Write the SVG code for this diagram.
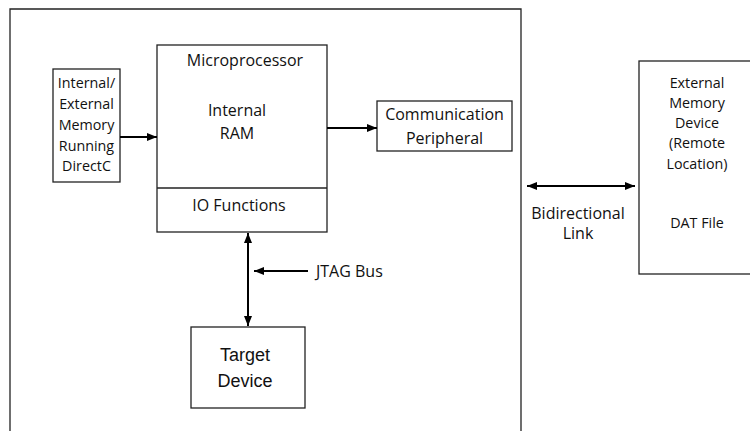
<svg xmlns="http://www.w3.org/2000/svg" width="750" height="431" viewBox="0 0 750 431">
<defs>
<marker id="ah" viewBox="0 0 10 8" refX="10" refY="4" markerWidth="10" markerHeight="8" markerUnits="userSpaceOnUse" orient="auto-start-reverse">
<path d="M0,0 L10,4 L0,8 Z" fill="#000"/>
</marker>
<style>
.box{fill:#fff;stroke:#222;stroke-width:1.3}
.t{font-family:"Open Sans","Noto Sans",sans-serif;font-size:14.3px;fill:#111;text-anchor:middle;dominant-baseline:central}
.L{font-size:16px}
.ta{font-family:"Liberation Sans",Arial,sans-serif;font-size:18px;fill:#111;text-anchor:middle;dominant-baseline:central}
.c{stroke:#000;stroke-width:2;fill:none}
</style>
</defs>
<rect width="750" height="431" fill="#fff"/>
<g id="system">
<path d="M10,440 L10,9 L521,9 L521,440" class="box" fill="none"/>
</g>
<g id="memory">
<rect x="53" y="69" width="67" height="113" class="box"/>
<text class="t" x="86.5" y="82">Internal/</text>
<text class="t" x="86.5" y="103">External</text>
<text class="t" x="86.5" y="124">Memory</text>
<text class="t" x="86.5" y="145">Running</text>
<text class="t" x="86.5" y="165">DirectC</text>
</g>
<g id="microprocessor">
<rect x="157" y="45" width="170" height="187" class="box"/>
<line x1="157" y1="188" x2="327" y2="188" stroke="#222" stroke-width="1.3"/>
<text class="t L" x="245" y="60">Microprocessor</text>
<text class="t L" x="237" y="110">Internal</text>
<text class="t L" x="237" y="133">RAM</text>
<text class="t L" x="239" y="205">IO Functions</text>
</g>
<g id="comm">
<rect x="377" y="101" width="135" height="50" class="box"/>
<text class="t L" x="444.5" y="114">Communication</text>
<text class="t L" x="444.5" y="138">Peripheral</text>
</g>
<g id="external">
<rect x="639" y="61" width="120" height="213" class="box"/>
<text class="t" x="697" y="82">External</text>
<text class="t" x="697" y="102">Memory</text>
<text class="t" x="697" y="122">Device</text>
<text class="t" x="697" y="142">(Remote</text>
<text class="t" x="697" y="163">Location)</text>
<text class="t" x="697" y="222">DAT File</text>
</g>
<g id="target">
<rect x="191" y="327" width="114" height="81" class="box"/>
<text class="ta" x="245" y="355">Target</text>
<text class="ta" x="245" y="381">Device</text>
</g>
<g id="connectors">
<line class="c" x1="120" y1="137" x2="157" y2="137" marker-end="url(#ah)"/>
<line class="c" x1="327" y1="128" x2="377" y2="128" marker-end="url(#ah)"/>
<line class="c" x1="527" y1="186" x2="635" y2="186" marker-start="url(#ah)" marker-end="url(#ah)"/>
<line class="c" x1="248" y1="233" x2="248" y2="326" marker-start="url(#ah)" marker-end="url(#ah)"/>
<line class="c" x1="308" y1="271" x2="254" y2="271" marker-end="url(#ah)"/>
<text class="t L" x="578" y="213">Bidirectional</text>
<text class="t L" x="578" y="233">Link</text>
<text class="t L" x="316" y="271" style="text-anchor:start">JTAG Bus</text>
</g>
</svg>
